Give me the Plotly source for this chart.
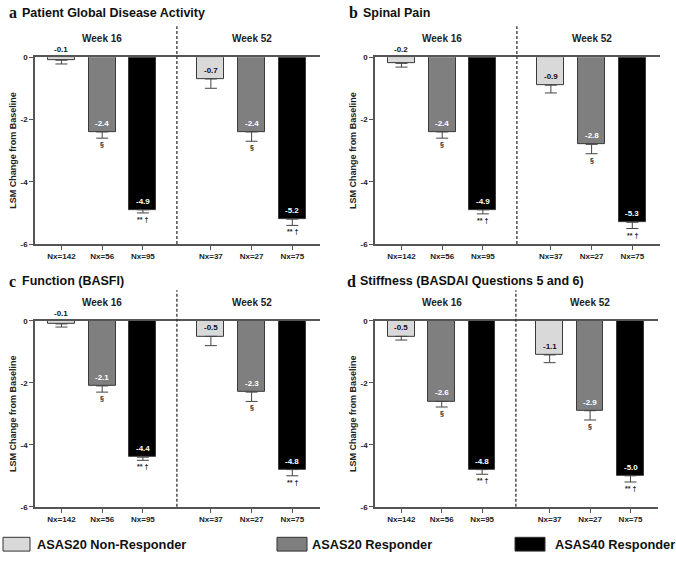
import plotly.graph_objects as go

# ---- data -------------------------------------------------------------
GROUPS = ["ASAS20 Non-Responder", "ASAS20 Responder", "ASAS40 Responder"]
WEEKS = ["Week 16", "Week 52"]
N_LABELS = ["Nx=142", "Nx=56", "Nx=95", "Nx=37", "Nx=27", "Nx=75"]
PANEL_LETTERS = ["a", "b", "c", "d"]
PANEL_TITLES = [
    "Patient Global Disease Activity",
    "Spinal Pain",
    "Function (BASFI)",
    "Stiffness (BASDAI Questions 5 and 6)",
]

# LSM change from baseline, order: W16 NR, R20, R40, W52 NR, R20, R40
lsm_global = [-0.1, -2.4, -4.9, -0.7, -2.4, -5.2]
lsm_pain = [-0.2, -2.4, -4.9, -0.9, -2.8, -5.3]
lsm_basfi = [-0.1, -2.1, -4.4, -0.5, -2.3, -4.8]
lsm_stiff = [-0.5, -2.6, -4.8, -1.1, -2.9, -5.0]

# standard errors (lower whisker only)
se_global = [0.12, 0.2, 0.1, 0.3, 0.3, 0.2]
se_pain = [0.12, 0.2, 0.13, 0.25, 0.3, 0.2]
se_basfi = [0.1, 0.2, 0.1, 0.3, 0.3, 0.2]
se_stiff = [0.12, 0.18, 0.15, 0.25, 0.3, 0.2]

sig_marks = ["", "\u00a7", "** \u2020", "", "\u00a7", "** \u2020"]

LSM = [lsm_global, lsm_pain, lsm_basfi, lsm_stiff]
SE = [se_global, se_pain, se_basfi, se_stiff]

# ---- layout helpers -----------------------------------------------------
W, H = 676, 561
X_POS = [0, 1, 2, 3.67, 4.67, 5.67]
SPLIT = 2.835
COLORS = ["#d9d9d9", "#7f7f7f", "#000000"]
TEXT_COLORS = ["#111111", "#ffffff", "#ffffff"]
SANS = "Liberation Sans, Arial, sans-serif"
SERIF = "Liberation Serif, Times New Roman, serif"


def px(x):
    return x / W


def py(y):
    return 1 - y / H


# pixel boxes of each panel: (left, right, top, bottom)
BOXES = [(35, 320, 54, 244), (375, 660, 54, 244), (35, 320, 322, 511), (375, 658, 322, 511)]
TITLE_POS = [(7, 20, 9), (347, 361, 9), (7, 20, 282), (345, 358, 282)]

fig = go.Figure()
annotations = []
shapes = []

for p in range(4):
    xa = "x" if p == 0 else f"x{p + 1}"
    ya = "y" if p == 0 else f"y{p + 1}"
    vals, errs = LSM[p], SE[p]
    for g in range(3):
        idx = [g, g + 3]
        fig.add_trace(go.Bar(
            x=[X_POS[i] for i in idx],
            y=[vals[i] for i in idx],
            width=0.66,
            name=GROUPS[g],
            showlegend=False,
            marker=dict(color=COLORS[g], line=dict(color="#3a3a3a", width=1)),
            error_y=dict(type="data", symmetric=False, array=[0, 0],
                         arrayminus=[errs[i] for i in idx],
                         color="#444444", thickness=1, width=6),
            xaxis=xa, yaxis=ya,
        ))
        for i in idx:
            v = vals[i]
            small = abs(v) < 0.3
            annotations.append(dict(
                x=X_POS[i], y=0 if small else v, xref=xa, yref=ya,
                text=f"<b>{v:.1f}</b>", showarrow=False, yanchor="bottom",
                yshift=1 if small else 2,
                font=dict(family=SANS, size=8,
                          color="#111111" if small else TEXT_COLORS[g]),
            ))
            if sig_marks[i]:
                annotations.append(dict(
                    x=X_POS[i], y=v - errs[i], xref=xa, yref=ya,
                    text=f"<b>{sig_marks[i]}</b>", showarrow=False,
                    yanchor="top", yshift=-1,
                    font=dict(family=SANS, size=7, color="#222222"),
                ))

    left, right, top, bottom = BOXES[p]
    fig.update_layout({
        ("xaxis" if p == 0 else f"xaxis{p + 1}"): dict(
            domain=[px(left), px(right)], anchor=ya, range=[-0.65, 6.35],
            tickvals=X_POS, ticktext=N_LABELS, ticks="outside", ticklen=4,
            tickcolor="#555555", showline=True, mirror=True,
            linecolor="#555555", linewidth=1.5, showgrid=False,
            zeroline=False, fixedrange=True,
            tickfont=dict(family=SANS, size=8, color="#222222", weight="bold"),
        ),
        ("yaxis" if p == 0 else f"yaxis{p + 1}"): dict(
            domain=[py(bottom), py(top)], anchor=xa, range=[-6, 0],
            tickvals=[0, -2, -4, -6], ticktext=["0", "-2", "-4", "-6"],
            ticks="outside", ticklen=4, tickcolor="#555555",
            showline=True, linecolor="#555555", linewidth=1.5,
            showgrid=False, zeroline=False,
            tickfont=dict(family=SANS, size=8, color="#222222", weight="bold"),
            title=dict(text="<b>LSM Change from Baseline</b>", standoff=2,
                       font=dict(family=SANS, size=9, color="#222222")),
        ),
    })

    # dashed separator between weeks
    shapes.append(dict(type="line", xref=xa, yref=f"{ya} domain",
                       x0=SPLIT, x1=SPLIT, y0=0, y1=1.165,
                       line=dict(color="#333333", width=1.3, dash="3px,2px")))
    # week headers
    for w, wk in enumerate(WEEKS):
        annotations.append(dict(
            x=X_POS[3 * w + 1], y=1, xref=xa, yref=f"{ya} domain",
            text=f"<b>{wk}</b>", showarrow=False, yanchor="bottom", yshift=11,
            font=dict(family=SANS, size=10, color="#222222"),
        ))
    # panel titles
    lx, tx, ty = TITLE_POS[p]
    annotations.append(dict(
        x=px(lx), y=py(ty), xref="paper", yref="paper", xanchor="left",
        yanchor="middle", text=f"<b>{PANEL_LETTERS[p]}</b>", showarrow=False,
        font=dict(family=SERIF, size=16, color="#111111"),
    ))
    annotations.append(dict(
        x=px(tx), y=py(ty), xref="paper", yref="paper", xanchor="left",
        yanchor="middle", text=f"<b>{PANEL_TITLES[p]}</b>", showarrow=False,
        font=dict(family=SANS, size=12.5, color="#111111"),
    ))

# custom legend along the bottom
LEGEND_BOX = [(3, 30), (277, 307), (515, 545)]
LEGEND_TEXT_X = [35, 310, 553]
for g in range(3):
    x0, x1 = LEGEND_BOX[g]
    shapes.append(dict(type="rect", xref="paper", yref="paper",
                       x0=px(x0), x1=px(x1), y0=py(556), y1=py(542),
                       fillcolor=COLORS[g], line=dict(color="#333333", width=1)))
    annotations.append(dict(
        x=px(LEGEND_TEXT_X[g]), y=py(549), xref="paper", yref="paper",
        xanchor="left", yanchor="middle", text=f"<b>{GROUPS[g]}</b>",
        showarrow=False, font=dict(family=SANS, size=12.8, color="#111111"),
    ))

fig.update_layout(
    width=W, height=H,
    margin=dict(l=0, r=0, t=0, b=0),
    paper_bgcolor="white", plot_bgcolor="white",
    barmode="overlay", bargap=0,
    annotations=annotations, shapes=shapes,
    showlegend=False,
)

# drop the default 8px body margin so the figure fills the window
fig.write_html("out.html", config={"displayModeBar": False},
               post_script="document.body.style.margin='0';")
